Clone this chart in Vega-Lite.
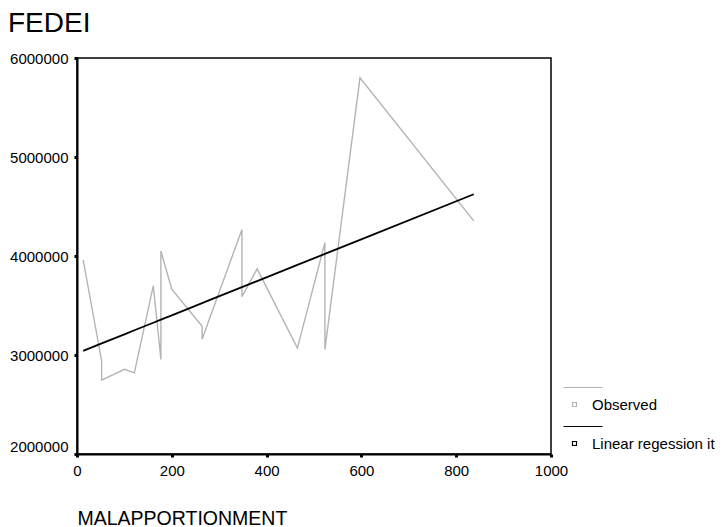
{
  "$schema": "https://vega.github.io/schema/vega-lite/v6.json",
  "autosize": "none",
  "width": 474,
  "height": 396,
  "padding": {"left": 77, "top": 58, "right": 174, "bottom": 73},
  "background": "white",
  "config": {
    "font": "Liberation Sans",
    "view": {"stroke": "#000000", "strokeWidth": 1.5},
    "axis": {"grid": false, "domainColor": "#000000", "domainWidth": 2, "tickColor": "#000000", "labelColor": "#000000", "titleColor": "#000000", "labelFont": "Liberation Sans", "titleFont": "Liberation Sans", "labelFontSize": 15, "tickSize": 3, "tickWidth": 3}
  },
  "title": {"text": "FEDEI", "anchor": "start", "frame": "group", "dx": -69, "offset": 0, "dy": 9, "baseline": "alphabetic", "fontSize": 28, "fontWeight": "normal", "font": "Liberation Sans", "color": "#000000"},
  "data": {"values": [
    {"series": "Observed", "i": 1, "x": 13, "y": 3960000},
    {"series": "Observed", "i": 2, "x": 52, "y": 2940000},
    {"series": "Observed", "i": 3, "x": 52, "y": 2745000},
    {"series": "Observed", "i": 4, "x": 100, "y": 2855000},
    {"series": "Observed", "i": 5, "x": 121, "y": 2820000},
    {"series": "Observed", "i": 6, "x": 161, "y": 3700000},
    {"series": "Observed", "i": 7, "x": 177, "y": 2955000},
    {"series": "Observed", "i": 8, "x": 177, "y": 4050000},
    {"series": "Observed", "i": 9, "x": 200, "y": 3665000},
    {"series": "Observed", "i": 10, "x": 264, "y": 3290000},
    {"series": "Observed", "i": 11, "x": 264, "y": 3160000},
    {"series": "Observed", "i": 12, "x": 278, "y": 3345000},
    {"series": "Observed", "i": 13, "x": 348, "y": 4268000},
    {"series": "Observed", "i": 14, "x": 348, "y": 3590000},
    {"series": "Observed", "i": 15, "x": 380, "y": 3870000},
    {"series": "Observed", "i": 16, "x": 465, "y": 3070000},
    {"series": "Observed", "i": 17, "x": 523, "y": 4135000},
    {"series": "Observed", "i": 18, "x": 523, "y": 3055000},
    {"series": "Observed", "i": 19, "x": 597, "y": 5800000},
    {"series": "Observed", "i": 20, "x": 837, "y": 4355000},
    {"series": "Linear regession  it", "i": 1, "x": 13, "y": 3042000},
    {"series": "Linear regession  it", "i": 2, "x": 52, "y": 3117000},
    {"series": "Linear regession  it", "i": 3, "x": 100, "y": 3209000},
    {"series": "Linear regession  it", "i": 4, "x": 121, "y": 3250000},
    {"series": "Linear regession  it", "i": 5, "x": 161, "y": 3326000},
    {"series": "Linear regession  it", "i": 6, "x": 177, "y": 3357000},
    {"series": "Linear regession  it", "i": 7, "x": 200, "y": 3401000},
    {"series": "Linear regession  it", "i": 8, "x": 264, "y": 3524000},
    {"series": "Linear regession  it", "i": 9, "x": 278, "y": 3551000},
    {"series": "Linear regession  it", "i": 10, "x": 348, "y": 3685000},
    {"series": "Linear regession  it", "i": 11, "x": 380, "y": 3747000},
    {"series": "Linear regession  it", "i": 12, "x": 465, "y": 3910000},
    {"series": "Linear regession  it", "i": 13, "x": 523, "y": 4021000},
    {"series": "Linear regession  it", "i": 14, "x": 597, "y": 4163000},
    {"series": "Linear regession  it", "i": 15, "x": 837, "y": 4624000}
  ]},
  "encoding": {
    "x": {"field": "x", "type": "quantitative", "scale": {"domain": [0, 1000], "nice": false, "zero": false},
      "axis": {"values": [0, 200, 400, 600, 800, 1000], "format": "d", "title": "MALAPPORTIONMENT", "titleFontSize": 19.5, "titleFontWeight": "normal", "titleAnchor": "start", "titleAlign": "left", "titleBaseline": "alphabetic", "titleX": 0, "titleY": 70, "labelPadding": 6, "labelFlush": false}},
    "y": {"field": "y", "type": "quantitative", "scale": {"domain": [2000000, 6000000], "nice": false, "zero": false},
      "axis": {"values": [2000000, 3000000, 4000000, 5000000, 6000000], "format": "d", "title": null, "labelPadding": 6, "labelFlush": false, "labelBaseline": {"expr": "datum.value == 2000000 ? 'bottom' : 'middle'"}}},
    "order": {"field": "i", "type": "quantitative"},
    "color": {"field": "series", "type": "nominal", "scale": {"domain": ["Observed", "Linear regession  it"], "range": ["#b4b4b4", "#000000"]},
      "legend": {"orient": "none", "legendX": 490, "legendY": 339, "title": null, "padding": 0,
        "symbolType": "M-2.2,-3.4H5.6M-0.4,-0.4H0.4V0.4H-0.4Z", "symbolSize": 100, "symbolStrokeWidth": 1.2, "symbolFillColor": "white",
        "labelFont": "Liberation Sans", "labelFontSize": 15, "labelColor": "#000000", "labelOffset": 10, "rowPadding": 11}}
  },
  "layer": [
    {"transform": [{"filter": "datum.series == 'Observed'"}], "mark": {"type": "line", "strokeWidth": 1.4}},
    {"transform": [{"filter": "datum.series != 'Observed'"}], "mark": {"type": "line", "strokeWidth": 1.8}}
  ]
}
